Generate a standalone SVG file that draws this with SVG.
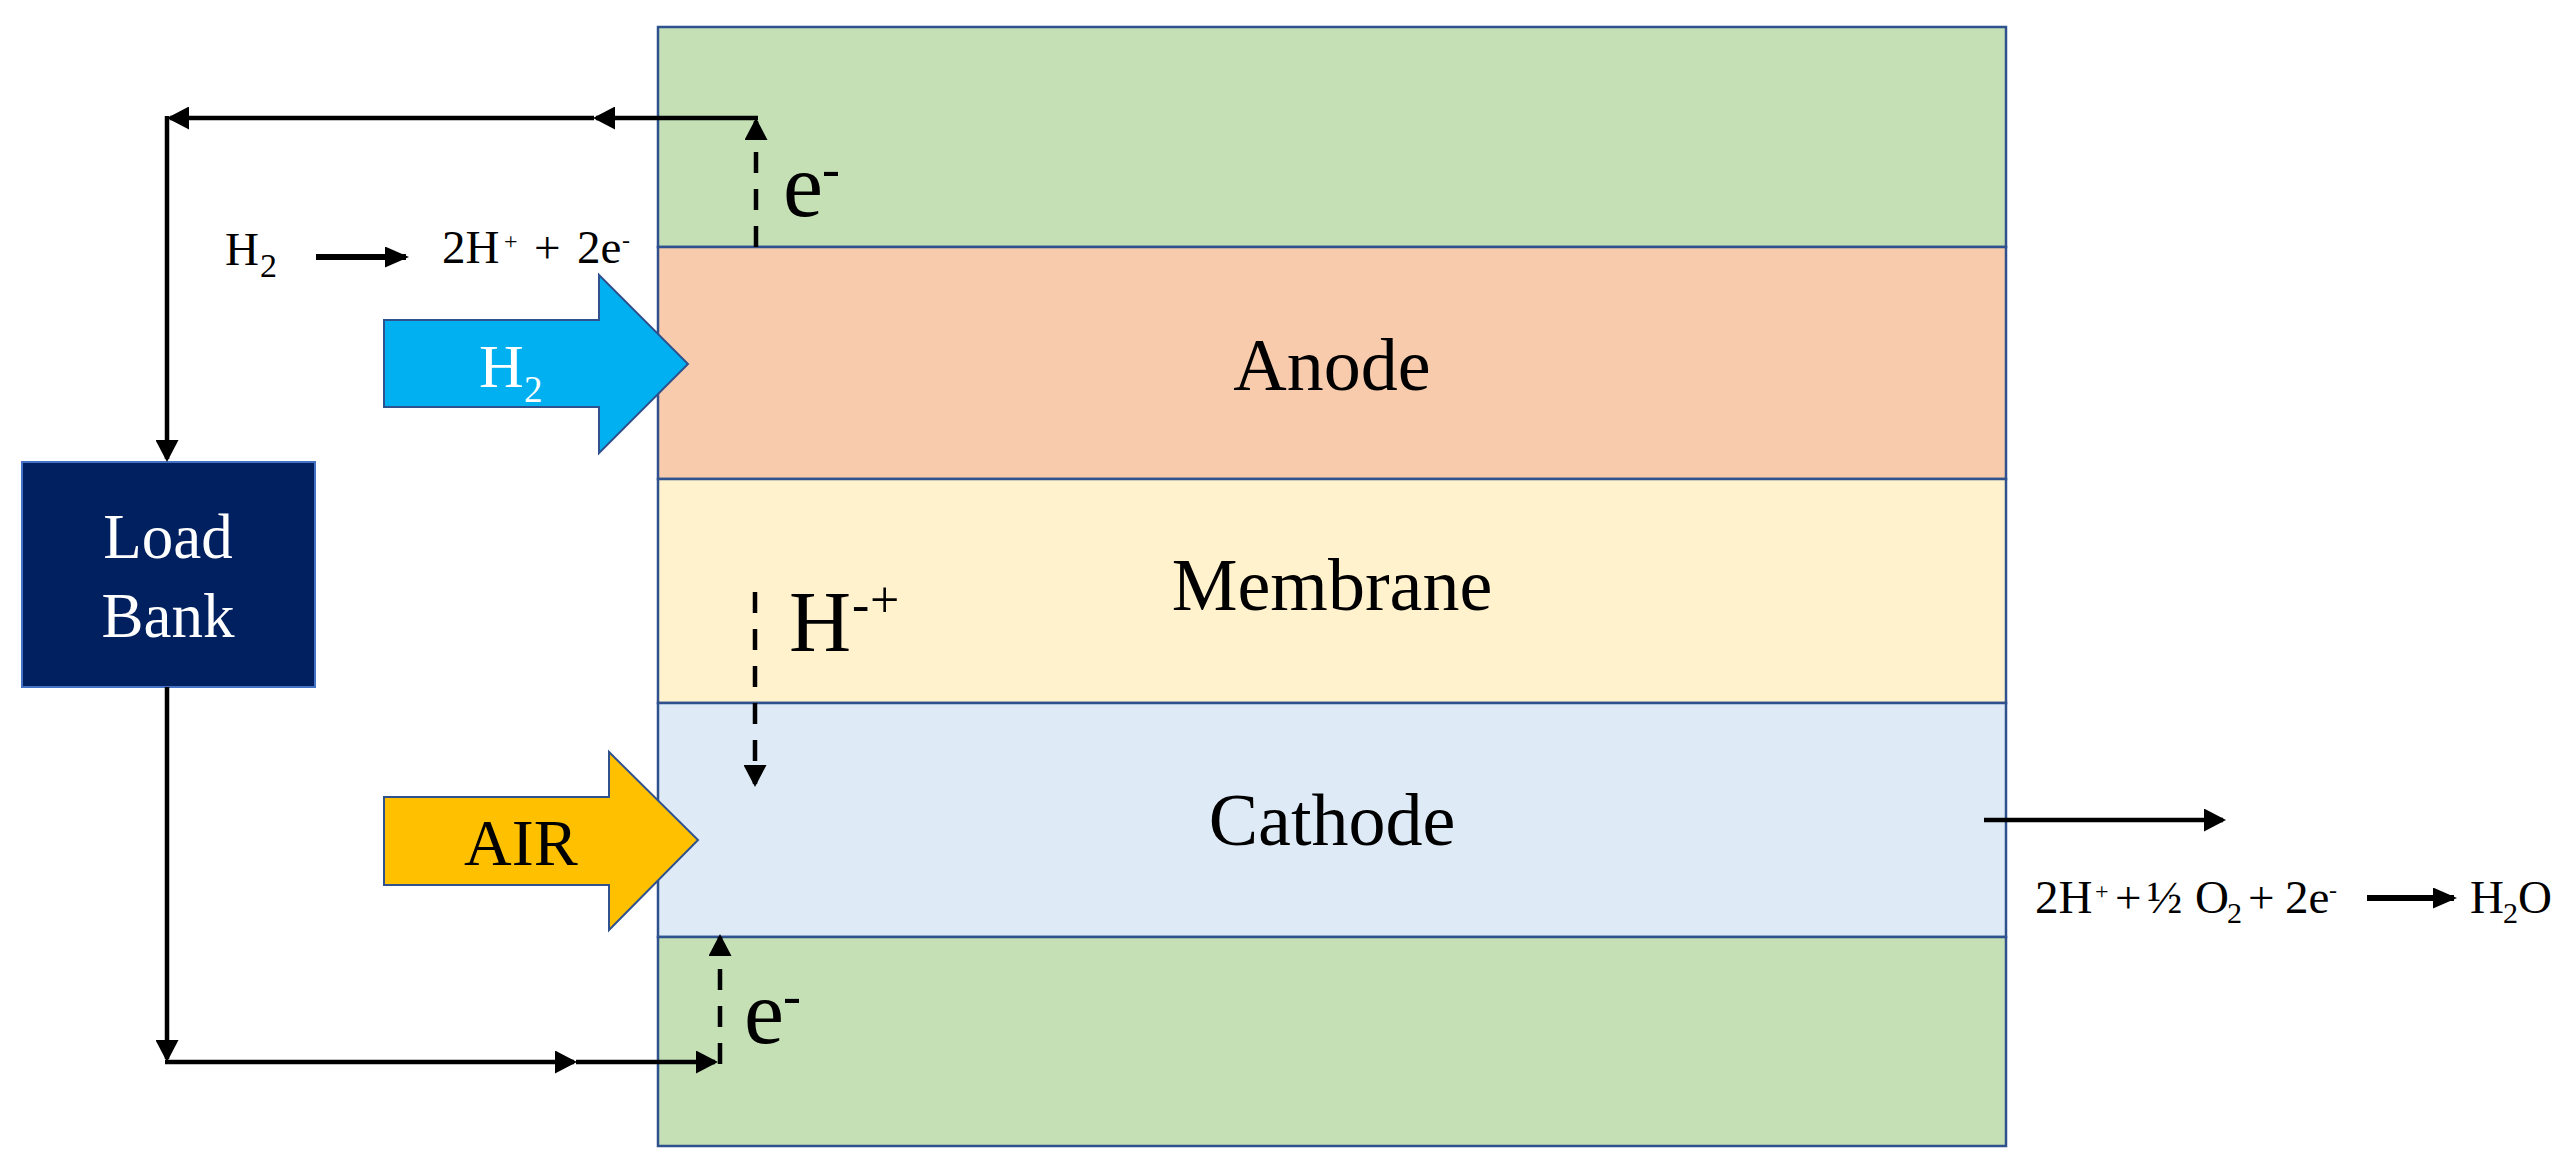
<svg xmlns="http://www.w3.org/2000/svg" width="2568" height="1172" viewBox="0 0 2568 1172">
<defs>
<style>
.layer{stroke:#2F528F;stroke-width:2.5}
.wire{fill:none;stroke:#000;stroke-width:4.5}
.eqa{fill:none;stroke:#000;stroke-width:6}
.dash{stroke-dasharray:21 16}
text{font-family:"Liberation Serif","Times New Roman",serif;fill:#000}
.lbl{font-size:74px;text-anchor:middle}
.eq{font-size:47px}
.white{fill:#fff}
.inlet{stroke:#2F528F;stroke-width:2}
</style>
<marker id="ah" markerUnits="userSpaceOnUse" markerWidth="22" markerHeight="23" refX="19" refY="11.5" orient="auto">
<path d="M0,0 L22,11.5 L0,23 z" fill="#000"/>
</marker>
<marker id="ahs" markerUnits="userSpaceOnUse" markerWidth="24" markerHeight="21" refX="21" refY="10.5" orient="auto">
<path d="M0,0 L24,10.5 L0,21 z" fill="#000"/>
</marker>
</defs>
<rect width="2568" height="1172" fill="#fff"/>

<g id="collector-top"><rect class="layer" x="658" y="27" width="1348" height="220" fill="#C5E0B4"/></g>
<g id="anode"><rect class="layer" x="658" y="247" width="1348" height="232" fill="#F8CBAD"/><text class="lbl" x="1332" y="390">Anode</text></g>
<g id="membrane"><rect class="layer" x="658" y="479" width="1348" height="224" fill="#FFF2CC"/><text class="lbl" x="1332" y="610">Membrane</text></g>
<g id="cathode"><rect class="layer" x="658" y="703" width="1348" height="234" fill="#DEEBF7"/><text class="lbl" x="1332" y="845">Cathode</text></g>
<g id="collector-bottom"><rect class="layer" x="658" y="937" width="1348" height="209" fill="#C5E0B4"/></g>

<g id="load-bank">
<rect x="22" y="462" width="293" height="225" fill="#002060" stroke="#4472C4" stroke-width="2"/>
<text class="white" x="168" y="558" font-size="63" text-anchor="middle">Load</text>
<text class="white" x="168" y="637" font-size="63" text-anchor="middle">Bank</text>
</g>

<g id="h2-inlet">
<polygon class="inlet" points="384,320 599,320 599,275 688,364 599,453 599,407 384,407" fill="#00B0F0"/>
<text class="white" font-size="62"><tspan x="479" y="387">H</tspan><tspan x="524" y="402" font-size="37">2</tspan></text>
</g>

<g id="air-inlet">
<polygon class="inlet" points="384,797 609,797 609,752 698,840 609,930 609,885 384,885" fill="#FFC000"/>
<text x="464" y="865" font-size="66">AIR</text>
</g>

<g id="connectors">
<path class="wire dash" d="M756,247 L756,121" marker-end="url(#ah)"/>
<path class="wire" d="M758,118 L596,118" marker-end="url(#ah)"/>
<path class="wire" d="M594,118 L170,118" marker-end="url(#ah)"/>
<path class="wire" d="M167,116 L167,459" marker-end="url(#ah)"/>
<path class="wire" d="M167,687 L167,1059" marker-end="url(#ah)"/>
<path class="wire" d="M165,1062 L574,1062" marker-end="url(#ah)"/>
<path class="wire" d="M576,1062 L715,1062" marker-end="url(#ah)"/>
<path class="wire dash" d="M720,1064 L720,937" marker-end="url(#ah)"/>
<path class="wire dash" d="M755,592 L755,784" marker-end="url(#ah)"/>
<path class="wire" d="M1984,820 L2223,820" marker-end="url(#ah)"/>
<path class="eqa" d="M316,257 L406,257" marker-end="url(#ahs)"/>
<path class="eqa" d="M2367,898 L2454,898" marker-end="url(#ahs)"/>
</g>

<g id="labels">
<text font-size="90"><tspan x="783" y="216">e</tspan><tspan x="822" y="187" font-size="54">-</tspan></text>
<text font-size="90"><tspan x="744" y="1043">e</tspan><tspan x="783" y="1014" font-size="54">-</tspan></text>
<text font-size="86"><tspan x="789" y="651">H</tspan><tspan x="852" y="622" font-size="52">-</tspan><tspan x="870" y="617" font-size="52">+</tspan></text>
<text class="eq"><tspan x="225" y="265">H</tspan><tspan x="260" y="277" font-size="34">2</tspan></text>
<text class="eq"><tspan x="442" y="263">2H</tspan><tspan x="504" y="249" font-size="24">+</tspan><tspan x="534" y="263">+</tspan><tspan x="577" y="263">2e</tspan><tspan x="622" y="248" font-size="24">-</tspan></text>
<text class="eq"><tspan x="2035" y="913">2H</tspan><tspan x="2095" y="899" font-size="24">+</tspan><tspan x="2115" y="913">+</tspan><tspan x="2147" y="913">½</tspan><tspan x="2195" y="913">O</tspan><tspan x="2227" y="923" font-size="30">2</tspan><tspan x="2248" y="913">+</tspan><tspan x="2285" y="913">2e</tspan><tspan x="2329" y="898" font-size="24">-</tspan></text>
<text class="eq"><tspan x="2470" y="913">H</tspan><tspan x="2503" y="923" font-size="30">2</tspan><tspan x="2518" y="913">O</tspan></text>
</g>
</svg>
